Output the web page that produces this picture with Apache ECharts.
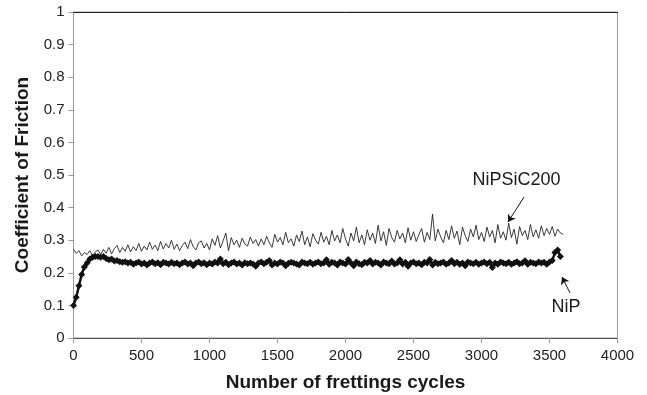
<!DOCTYPE html>
<html>
<head>
<meta charset="utf-8">
<script src="https://cdn.jsdelivr.net/npm/echarts@6/dist/echarts.min.js"></script>
<style>html,body{margin:0;padding:0;background:#fff}#c{width:647px;height:395px}</style>
</head>
<body>
<div id="c"></div>
<script>
const xTicks = [0, 500, 1000, 1500, 2000, 2500, 3000, 3500, 4000];
const yTicks = [0, 0.1, 0.2, 0.3, 0.4, 0.5, 0.6, 0.7, 0.8, 0.9, 1];
const stepCycles = 20;

// NiPSiC200: values every 20 cycles from 0 to 3600
const nipsicValues = [
  0.272, 0.260, 0.268, 0.252, 0.262, 0.256, 0.268, 0.252, 0.264, 0.270,
  0.256, 0.272, 0.260, 0.278, 0.258, 0.274, 0.284, 0.262, 0.278, 0.266,
  0.286, 0.264, 0.280, 0.268, 0.290, 0.266, 0.282, 0.270, 0.294, 0.272,
  0.285, 0.268, 0.296, 0.273, 0.290, 0.276, 0.300, 0.272, 0.288, 0.268,
  0.284, 0.294, 0.274, 0.302, 0.280, 0.270, 0.292, 0.298, 0.276, 0.290,
  0.270, 0.304, 0.284, 0.314, 0.276, 0.298, 0.322, 0.268, 0.308, 0.286,
  0.300, 0.278, 0.306, 0.288, 0.282, 0.310, 0.290, 0.302, 0.282, 0.304,
  0.286, 0.312, 0.292, 0.278, 0.318, 0.294, 0.308, 0.286, 0.324, 0.292,
  0.304, 0.282, 0.316, 0.296, 0.328, 0.286, 0.310, 0.280, 0.320, 0.300,
  0.288, 0.324, 0.294, 0.312, 0.286, 0.330, 0.298, 0.316, 0.292, 0.336,
  0.304, 0.282, 0.322, 0.298, 0.340, 0.292, 0.316, 0.286, 0.332, 0.300,
  0.322, 0.290, 0.346, 0.298, 0.326, 0.284, 0.336, 0.308, 0.294, 0.330,
  0.304, 0.322, 0.292, 0.338, 0.300, 0.326, 0.296, 0.318, 0.336, 0.294,
  0.324, 0.302, 0.380, 0.298, 0.334, 0.310, 0.292, 0.330, 0.302, 0.344,
  0.306, 0.328, 0.286, 0.340, 0.314, 0.296, 0.334, 0.310, 0.346, 0.302,
  0.324, 0.296, 0.340, 0.310, 0.330, 0.292, 0.348, 0.306, 0.326, 0.300,
  0.352, 0.308, 0.334, 0.288, 0.342, 0.314, 0.330, 0.302, 0.348, 0.310,
  0.332, 0.306, 0.344, 0.314, 0.336, 0.318, 0.342, 0.312, 0.334, 0.322,
  0.318
];

// NiP: values every 20 cycles from 0 to 3580
const nipValues = [
  0.100, 0.125, 0.160, 0.195, 0.218, 0.230, 0.242, 0.248, 0.250, 0.250,
  0.248, 0.250, 0.244, 0.240, 0.242, 0.236, 0.238, 0.234, 0.232, 0.234,
  0.230, 0.232, 0.226, 0.230, 0.233, 0.227, 0.230, 0.224, 0.230, 0.233,
  0.228, 0.231, 0.225, 0.232, 0.230, 0.227, 0.232, 0.228, 0.230, 0.225,
  0.230, 0.233, 0.227, 0.230, 0.222, 0.230, 0.233, 0.228, 0.231, 0.225,
  0.230, 0.227, 0.233, 0.230, 0.242, 0.228, 0.232, 0.225, 0.230, 0.233,
  0.227, 0.230, 0.224, 0.231, 0.228, 0.230, 0.227, 0.220, 0.230, 0.233,
  0.228, 0.232, 0.238, 0.224, 0.230, 0.227, 0.233, 0.230, 0.222, 0.229,
  0.232, 0.230, 0.227, 0.224, 0.233, 0.230, 0.228, 0.232, 0.226, 0.230,
  0.233, 0.228, 0.230, 0.240, 0.226, 0.232, 0.230, 0.224, 0.233, 0.230,
  0.227, 0.241, 0.230, 0.222, 0.233, 0.228, 0.225, 0.232, 0.230, 0.238,
  0.227, 0.232, 0.230, 0.224, 0.233, 0.230, 0.228, 0.236, 0.227, 0.230,
  0.240, 0.227, 0.232, 0.220, 0.230, 0.233, 0.228, 0.230, 0.225, 0.232,
  0.230, 0.241, 0.224, 0.232, 0.228, 0.230, 0.233, 0.226, 0.230, 0.238,
  0.228, 0.232, 0.226, 0.230, 0.222, 0.233, 0.230, 0.228, 0.232, 0.226,
  0.230, 0.233, 0.228, 0.232, 0.216, 0.230, 0.226, 0.233, 0.230, 0.228,
  0.232, 0.226, 0.230, 0.234, 0.228, 0.230, 0.237, 0.226, 0.232, 0.230,
  0.228, 0.233, 0.230, 0.232, 0.226, 0.233, 0.238, 0.262, 0.270, 0.250
];

const seriesNames = ['NiPSiC200', 'NiP'];
const labelNiPSiC = { text: 'NiPSiC200', at: [3257, 0.485] };
const labelNiP = { text: 'NiP', at: [3621, 0.095] };
const arrowNiPSiC = [[3313, 0.4325], [3195, 0.356]];
const arrowNiP = [[3651, 0.138], [3592, 0.187]];

const toPairs = (vals) => vals.map((v, i) => [i * stepCycles, v]);

const font = '"Liberation Sans", Arial, sans-serif';
const chart = echarts.init(document.getElementById('c'), null, { renderer: 'canvas' });

function textPoint(lbl) {
  return {
    coord: lbl.at, symbol: 'circle', symbolSize: 0,
    label: { show: true, position: 'inside', formatter: lbl.text, color: '#1a1a1a', fontSize: 18, fontFamily: font }
  };
}

chart.setOption({
  animation: false,
  grid: { left: 73.5, right: 29.5, top: 12, bottom: 57, containLabel: false, outerBoundsMode: 'none',
    show: true, borderColor: '#9a9a9a', borderWidth: 1 },
  xAxis: [{
    type: 'value', min: 0, max: 4000, interval: 500,
    name: 'Number of frettings cycles', nameLocation: 'middle', nameGap: 35,
    nameTextStyle: { fontSize: 19, fontWeight: 'bold', color: '#1a1a1a', fontFamily: font },
    axisLine: { show: true, lineStyle: { color: '#555', width: 1 } },
    axisTick: { show: true, inside: false, length: 5, lineStyle: { color: '#999' } },
    axisLabel: { fontSize: 15, color: '#222', fontFamily: font, margin: 10,
      formatter: (v) => xTicks.includes(v) ? String(v) : '' },
    splitLine: { show: false }
  }, {
    type: 'value', min: 0, max: 4000, position: 'top',
    axisLine: { show: true, lineStyle: { color: '#222', width: 1 } },
    axisTick: { show: false }, axisLabel: { show: false }, splitLine: { show: false }
  }],
  yAxis: {
    type: 'value', min: 0, max: 1, interval: 0.1,
    name: 'Coefficient of Friction', nameLocation: 'middle', nameGap: 41, nameRotate: 90,
    nameTextStyle: { fontSize: 19, fontWeight: 'bold', color: '#1a1a1a', fontFamily: font },
    axisLine: { show: true, lineStyle: { color: '#999', width: 1 } },
    axisTick: { show: true, inside: false, length: 5, lineStyle: { color: '#999' } },
    axisLabel: { fontSize: 15, color: '#222', fontFamily: font, margin: 9,
      formatter: (v) => {
        const t = yTicks.find((y) => Math.abs(y - v) < 1e-9);
        return t === undefined ? '' : String(Math.round(t * 10) / 10);
      } },
    splitLine: { show: false }
  },
  series: [{
    name: seriesNames[0], type: 'line', data: toPairs(nipsicValues),
    showSymbol: false, symbol: 'none',
    lineStyle: { color: '#262626', width: 0.9 },
    z: 2,
    markLine: {
      silent: true, symbol: ['none', 'arrow'], symbolSize: 7,
      lineStyle: { color: '#111', width: 1, type: 'solid' }, label: { show: false },
      data: [[{ coord: arrowNiPSiC[0] }, { coord: arrowNiPSiC[1] }]]
    },
    markPoint: { silent: true, data: [textPoint(labelNiPSiC)] }
  }, {
    name: seriesNames[1], type: 'line', data: toPairs(nipValues),
    symbol: 'diamond', symbolSize: 7, showAllSymbol: true,
    itemStyle: { color: '#111' },
    lineStyle: { color: '#111', width: 2.5 },
    z: 3,
    markLine: {
      silent: true, symbol: ['none', 'arrow'], symbolSize: 7,
      lineStyle: { color: '#111', width: 1, type: 'solid' }, label: { show: false },
      data: [[{ coord: arrowNiP[0] }, { coord: arrowNiP[1] }]]
    },
    markPoint: { silent: true, data: [textPoint(labelNiP)] }
  }]
});
</script>
</body>
</html>
